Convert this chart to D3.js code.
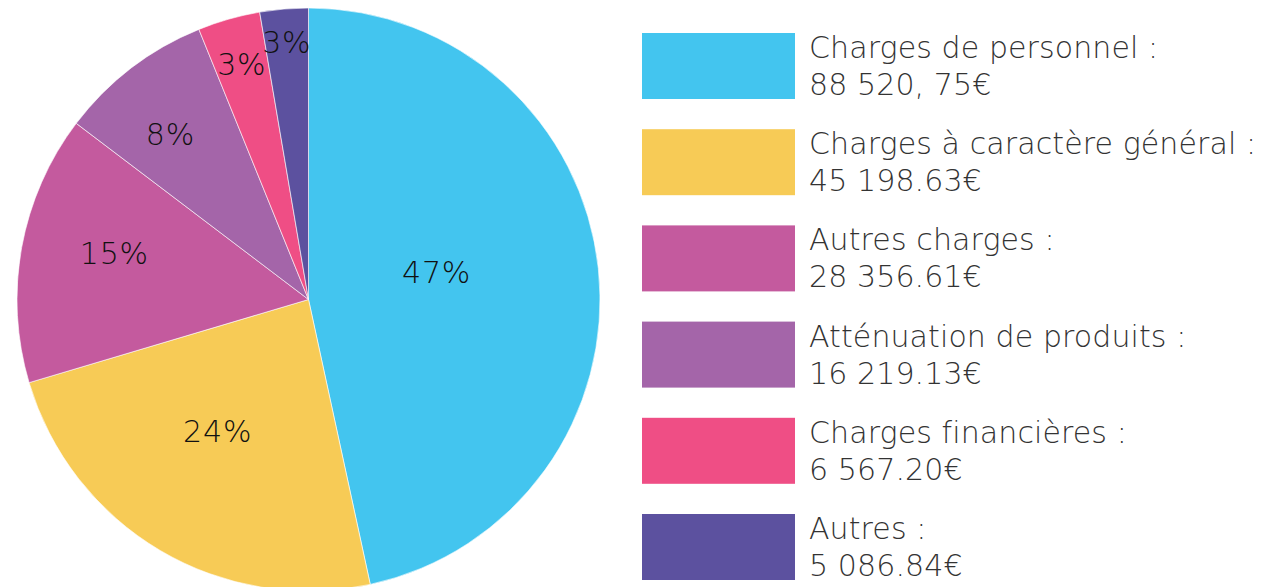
<!DOCTYPE html>
<html><head><meta charset="utf-8">
<script src="https://cdn.jsdelivr.net/npm/d3@7"></script>
<style>
html,body{margin:0;padding:0;background:#fff;}
svg{display:block;font-family:"DejaVu Sans",sans-serif;}
</style></head>
<body>
<svg id="chart" width="1268" height="587"></svg>
<script>
const categories = ["Charges de personnel :", "Charges à caractère général :", "Autres charges :", "Atténuation de produits :", "Charges financières :", "Autres :"];
const amounts = [88520.75, 45198.63, 28356.61, 16219.13, 6567.20, 5086.84];
const amountLabels = ["88 520, 75€", "45 198.63€", "28 356.61€", "16 219.13€", "6 567.20€", "5 086.84€"];
const percentLabels = ["47%", "24%", "15%", "8%", "3%", "3%"];
const colors = ["#43C5EF", "#F7CB56", "#C45A9E", "#A465A9", "#EF4E85", "#5C519F"];

// layout (not data): label radius and angular nudge (degrees)
const labelLayout = [{r:131, da:-6}, {r:160, da:4}, {r:199.5, da:3}, {r:215.5, da:-2.4}, {r:244, da:0}, {r:258, da:0}];

const svg = d3.select("#chart");
const cx = 308.5, cy = 299.5, R = 291.5;

const pie = d3.pie().sort(null).value(d => d);
const arcs = pie(amounts);
const arc = d3.arc().innerRadius(0).outerRadius(R);

const g = svg.append("g").attr("transform", `translate(${cx},${cy})`);
g.selectAll("path").data(arcs).join("path")
  .attr("d", arc)
  .attr("fill", (d,i) => colors[i])
  .attr("stroke", "#fff").attr("stroke-width", 0.6);

g.selectAll("text.pct").data(arcs).join("text")
  .attr("class","pct")
  .attr("x", (d,i) => { const a = (d.startAngle + d.endAngle)/2 + labelLayout[i].da*Math.PI/180; return labelLayout[i].r*Math.sin(a); })
  .attr("y", (d,i) => { const a = (d.startAngle + d.endAngle)/2 + labelLayout[i].da*Math.PI/180; return -labelLayout[i].r*Math.cos(a); })
  .attr("text-anchor","middle")
  .attr("dominant-baseline","central")
  .attr("font-size", 30).attr("font-weight", 200).attr("letter-spacing", 0.8)
  .attr("fill", "#111")
  .text((d,i) => percentLabels[i]);

// legend
const ly = d3.scaleLinear().domain([0, categories.length-1]).range([33, 514]);
const lg = svg.append("g");
const items = lg.selectAll("g").data(categories).join("g")
  .attr("transform", (d,i) => `translate(642,${ly(i)})`);
items.append("rect").attr("width", 153).attr("height", 66).attr("fill", (d,i) => colors[i]);
const t = items.append("text").attr("fill", "#333").attr("font-size", 30).attr("font-weight", 200).attr("letter-spacing", 0.1);
t.append("tspan").attr("x", 167).attr("y", 25).text(d => d);
t.append("tspan").attr("x", 167).attr("y", 62).text((d,i) => amountLabels[i]);
</script>
</body></html>
